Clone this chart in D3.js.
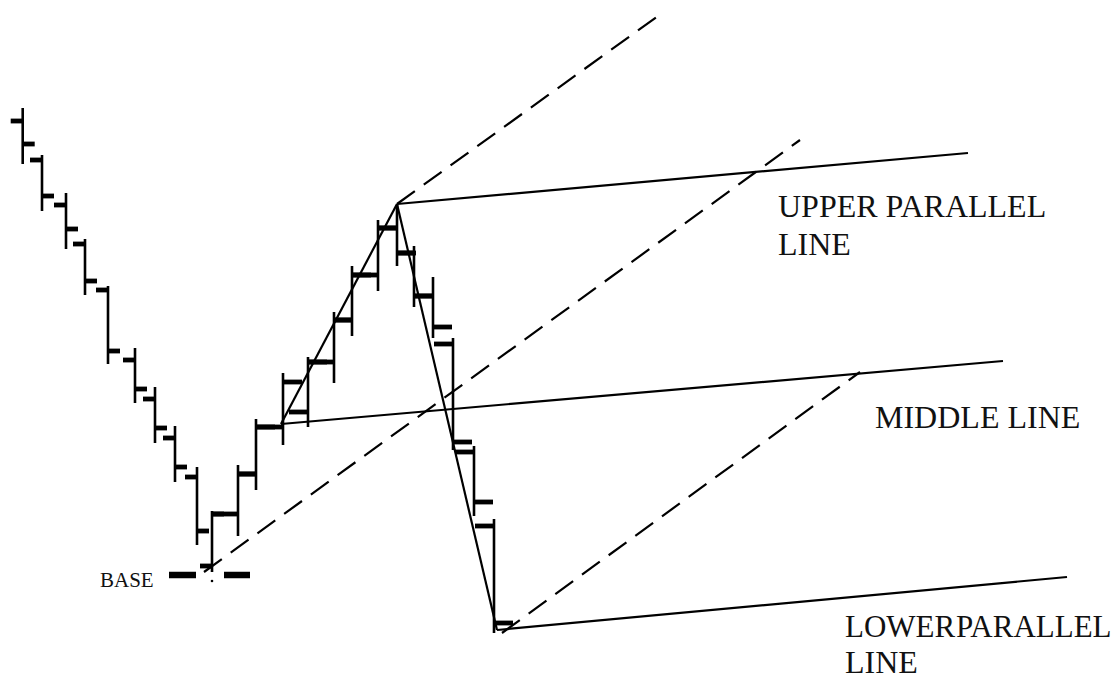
<!DOCTYPE html>
<html>
<head>
<meta charset="utf-8">
<script src="https://cdn.jsdelivr.net/npm/d3@7"></script>
<style>
  html, body { margin: 0; padding: 0; background: #fff; }
  svg { display: block; }
  .label { font-family: "Liberation Serif", "DejaVu Serif", serif; fill: #111; }
</style>
</head>
<body>
<svg id="chart"></svg>
<script>
// ═══════════════════════════════════════════════
//  PITCHFORK — price bars with median / parallel lines
// ═══════════════════════════════════════════════

const W = 1118, H = 677;

// bar data: day, open, high, low, close
const days   = [2.27, 4.2, 6.6, 8.5, 10.8, 13.5, 15.5, 17.5, 19.7, 21.2, 23.8, 25.6,
                28.3, 30.8, 33.4, 35.2, 37.8, 39.7, 41.4, 43.3, 45.3, 47.4, 49.4];
const opens  = [55.6, 51.7, 47.2, 43.3, 38.7, 31.7, 27.8, 23.9, 20.0, 11.1, 16.3, 20.3,
                25.0, 26.5, 31.5, 35.7, 40.2, 44.9, 42.4, 38.1, 33.3, 22.5, 15.1];
const highs  = [56.9, 52.2, 48.4, 43.8, 39.1, 32.9, 29.0, 25.1, 21.0, 16.6, 21.2, 25.8,
                30.4, 32.0, 36.5, 41.1, 45.7, 47.2, 43.1, 40.0, 33.9, 23.1, 15.8];
const lows   = [51.3, 46.6, 42.8, 38.2, 31.3, 27.4, 23.4, 19.5, 13.2, 10.5, 14.1, 18.7,
                23.2, 25.0, 29.4, 34.1, 38.6, 41.1, 37.0, 33.9, 22.7, 16.1, 4.4];
const closes = [53.3, 48.1, 44.8, 39.6, 32.6, 28.8, 24.9, 21.0, 14.6, 16.3, 20.3, 25.0,
                29.5, 31.5, 35.7, 40.2, 44.9, 42.4, 38.1, 35.0, 23.5, 17.5, 5.4];

// pivots
const pivotA = [28.1, 25.3];
const pivotB = [39.7, 47.3];
const pivotC = [49.7, 4.7];

// solid lines [from, to]
const solidLines = [
  [pivotA, pivotB],
  [pivotB, pivotC],
  [pivotB, [96.8, 52.4]],   // upper parallel
  [pivotA, [100.3, 31.6]],  // median
  [pivotC, [106.7, 10.0]]   // lower parallel
];

// dashed lines [from, to]
const dashedLines = [
  [pivotB, [65.8, 66.1]],
  [[20.4, 10.5], [80.0, 53.7]],
  [[50.2, 4.4], [86.0, 30.5]]
];

// base marker
const baseLevel = 10.2;
const baseFrom = 16.9, baseTo = 25.0;
const baseDot = [21.2, 9.6];

// labels: text, day, price
const labels = [
  ["UPPER PARALLEL", 77.8, 46.0],
  ["LINE",           77.8, 42.2],
  ["MIDDLE LINE",    87.5, 24.9],
  ["LOWER PARALLEL", 84.5, 4.0],
  ["LINE",           84.5, 0.4],
  ["BASE",           10.0, 9.0]
];

const svg = d3.select("#chart").attr("width", W).attr("height", H);

const x = d3.scaleLinear().domain([0, 111.8]).range([0, W]);
const y = d3.scaleLinear().domain([0, 67.7]).range([H, 0]);

const bars = days.map((d, i) => ({
  day: d, open: opens[i], high: highs[i], low: lows[i], close: closes[i], i
}));

// ─── lines ────────────────────────────────
svg.append("g").selectAll("line")
  .data(solidLines)
  .join("line")
    .attr("x1", d => x(d[0][0])).attr("y1", d => y(d[0][1]))
    .attr("x2", d => x(d[1][0])).attr("y2", d => y(d[1][1]))
    .attr("stroke", "#000").attr("stroke-width", 2.2);

svg.append("g").selectAll("line")
  .data(dashedLines)
  .join("line")
    .attr("x1", d => x(d[0][0])).attr("y1", d => y(d[0][1]))
    .attr("x2", d => x(d[1][0])).attr("y2", d => y(d[1][1]))
    .attr("stroke", "#000").attr("stroke-width", 2.2)
    .attr("stroke-dasharray", "22,11");

// ─── base marker ──────────────────────────
svg.append("line")
  .attr("x1", x(baseFrom)).attr("x2", x(baseTo))
  .attr("y1", y(baseLevel)).attr("y2", y(baseLevel))
  .attr("stroke", "#000").attr("stroke-width", 6.5)
  .attr("stroke-dasharray", "27,28,27");
svg.append("circle")
  .attr("cx", x(baseDot[0])).attr("cy", y(baseDot[1]))
  .attr("r", 1.3).attr("fill", "#000");

// ─── price bars ───────────────────────────
const tickLen = i => (i < 10 ? 12 : 19);
const gBars = svg.append("g");

gBars.selectAll(".hl")
  .data(bars)
  .join("line")
    .attr("class", "hl")
    .attr("x1", d => x(d.day)).attr("x2", d => x(d.day))
    .attr("y1", d => y(d.high)).attr("y2", d => y(d.low))
    .attr("stroke", "#000").attr("stroke-width", 2.6);

gBars.selectAll(".open")
  .data(bars)
  .join("line")
    .attr("class", "open")
    .attr("x1", d => (d.i > 0 && bars[d.i - 1].close === d.open)
      ? x(bars[d.i - 1].day) : x(d.day) - tickLen(d.i))
    .attr("x2", d => x(d.day))
    .attr("y1", d => y(d.open)).attr("y2", d => y(d.open))
    .attr("stroke", "#000").attr("stroke-width", 4.8);

gBars.selectAll(".close")
  .data(bars)
  .join("line")
    .attr("class", "close")
    .attr("x1", d => x(d.day))
    .attr("x2", d => x(d.day) + tickLen(d.i))
    .attr("y1", d => y(d.close)).attr("y2", d => y(d.close))
    .attr("stroke", "#000").attr("stroke-width", 4.8);

// ─── labels ───────────────────────────────
const labelSize = t => (t === "BASE" ? 21 : t.startsWith("LOWER") ? 31 : 32);
svg.append("g").selectAll("text")
  .data(labels)
  .join("text")
    .attr("class", "label")
    .attr("x", d => x(d[1])).attr("y", d => y(d[2]))
    .attr("font-size", d => labelSize(d[0]))
    .attr("word-spacing", d => d[0].startsWith("LOWER") ? -7 : 0)
    .text(d => d[0]);
</script>
</body>
</html>
